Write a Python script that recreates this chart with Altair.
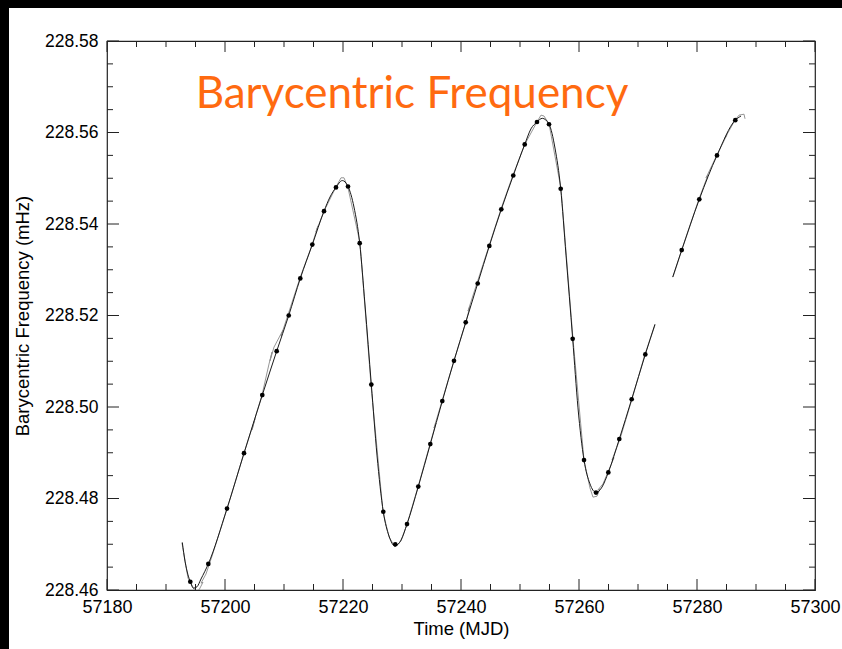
import altair as alt
import pandas as pd

# ---- data ----
dot_mjd = [57194.12, 57197.17, 57200.34, 57203.22, 57206.32, 57208.76, 57210.80, 57212.76,
           57214.80, 57216.78, 57218.81, 57220.85, 57222.83, 57224.80, 57226.83, 57228.86,
           57230.85, 57232.76, 57234.80, 57236.83, 57238.81, 57240.80, 57242.83, 57244.80,
           57246.83, 57248.86, 57250.80, 57252.88, 57254.92, 57256.90, 57258.93, 57260.85,
           57262.88, 57264.97, 57266.83, 57268.93, 57271.24,
           57277.41, 57280.39, 57283.39, 57286.49]
dot_freq = [228.4618, 228.4657, 228.4778, 228.4899, 228.5026, 228.5122, 228.5200, 228.5281,
            228.5355, 228.5428, 228.5480, 228.5482, 228.5358, 228.5049, 228.4771, 228.4700,
            228.4744, 228.4826, 228.4919, 228.5013, 228.5101, 228.5185, 228.5270, 228.5352,
            228.5432, 228.5506, 228.5574, 228.5623, 228.5618, 228.5477, 228.5149, 228.4884,
            228.4813, 228.4857, 228.4930, 228.5017, 228.5115,
            228.5343, 228.5454, 228.5550, 228.5627]

model_a_mjd = [57192.76, 57193.22, 57193.73, 57194.12, 57194.66, 57195.25, 57195.93, 57197.17,
               57200.34, 57203.22, 57206.32, 57208.76, 57210.80, 57212.76, 57214.80, 57216.78,
               57217.80, 57218.81, 57219.88, 57220.85, 57221.86, 57222.83, 57223.73, 57224.80,
               57225.76, 57226.83, 57227.80, 57228.81, 57229.83, 57230.85, 57232.76, 57234.80,
               57236.83, 57238.81, 57240.80, 57242.83, 57244.80, 57246.83, 57248.86, 57250.80,
               57251.86, 57252.88, 57253.78, 57254.92, 57255.93, 57256.90, 57257.80, 57258.93,
               57259.83, 57260.85, 57261.86, 57262.88, 57263.90, 57264.97, 57266.83, 57268.93,
               57271.24, 57272.88]
model_a_freq = [228.4704, 228.4663, 228.4633, 228.4618, 228.4604, 228.4607, 228.4624, 228.4657,
                228.4778, 228.4899, 228.5026, 228.5122, 228.5200, 228.5281, 228.5355, 228.5428,
                228.5459, 228.5480, 228.5495, 228.5482, 228.5437, 228.5358, 228.5223, 228.5049,
                228.4895, 228.4771, 228.4718, 228.4696, 228.4709, 228.4744, 228.4826, 228.4919,
                228.5013, 228.5101, 228.5185, 228.5270, 228.5352, 228.5432, 228.5506, 228.5574,
                228.5608, 228.5623, 228.5631, 228.5618, 228.5566, 228.5477, 228.5332, 228.5149,
                228.4998, 228.4884, 228.4832, 228.4813, 228.4825, 228.4857, 228.4930, 228.5017,
                228.5115, 228.5181]
model_b_mjd = [57275.88, 57277.41, 57280.39, 57283.39, 57286.49, 57287.46]
model_b_freq = [228.5284, 228.5343, 228.5454, 228.5550, 228.5627, 228.5636]

raw_a_mjd = [57192.71, 57193.73, 57194.92, 57195.59, 57196.27, 57195.93, 57196.78, 57197.80,
             57200.34, 57203.22, 57204.58, 57205.08, 57204.58, 57205.25, 57206.27, 57207.46,
             57207.97, 57207.63, 57208.31, 57209.83, 57209.49, 57210.51, 57212.71, 57214.75,
             57215.76, 57215.42, 57216.78, 57218.81, 57219.66, 57220.17, 57220.85, 57222.88,
             57224.75, 57226.78, 57227.80, 57228.81, 57229.83, 57230.85, 57232.71, 57234.75,
             57235.76, 57235.42, 57236.78, 57238.81, 57240.85, 57241.53, 57241.19, 57242.71,
             57244.75, 57246.78, 57248.81, 57250.85, 57252.88, 57253.56, 57254.07, 57254.92,
             57256.95, 57258.98, 57260.85, 57261.86, 57262.37, 57263.05, 57263.56, 57263.22,
             57264.07, 57264.92, 57265.93, 57265.59, 57266.95, 57268.98, 57271.19, 57272.88]
raw_a_freq = [228.4703, 228.4626, 228.4598, 228.4600, 228.4617, 228.4615, 228.4635, 228.4674,
              228.4777, 228.4899, 228.4954, 228.4974, 228.4950, 228.4983, 228.5026, 228.5094,
              228.5120, 228.5101, 228.5131, 228.5168, 228.5155, 228.5195, 228.5282, 228.5354,
              228.5396, 228.5383, 228.5428, 228.5481, 228.5501, 228.5501, 228.5479, 228.5359,
              228.5048, 228.4771, 228.4716, 228.4694, 228.4707, 228.4744, 228.4825, 228.4919,
              228.4965, 228.4954, 228.5013, 228.5101, 228.5186, 228.5221, 228.5210, 228.5271,
              228.5352, 228.5433, 228.5507, 228.5575, 228.5623, 228.5638, 228.5636, 228.5619,
              228.5477, 228.5149, 228.4884, 228.4823, 228.4803, 228.4805, 228.4821, 228.4819,
              228.4832, 228.4858, 228.4889, 228.4884, 228.4930, 228.5017, 228.5116, 228.5179]
raw_b_mjd = [57275.93, 57277.41, 57280.34, 57281.86, 57281.53, 57283.39, 57285.08, 57284.75,
             57286.44, 57287.12, 57287.97, 57288.14]
raw_b_freq = [228.5284, 228.5343, 228.5455, 228.5507, 228.5501, 228.5551, 228.5595, 228.5588,
              228.5627, 228.5638, 228.5640, 228.5630]

x_major = [57180, 57200, 57220, 57240, 57260, 57280, 57300]
x_minor = [57185, 57190, 57195, 57205, 57210, 57215, 57225, 57230, 57235, 57245, 57250, 57255,
           57265, 57270, 57275, 57285, 57290, 57295]
y_major = [228.46, 228.48, 228.50, 228.52, 228.54, 228.56, 228.58]
y_minor = [228.465, 228.47, 228.475, 228.485, 228.49, 228.495, 228.505, 228.51, 228.515,
           228.525, 228.53, 228.535, 228.545, 228.55, 228.555, 228.565, 228.57, 228.575]

title_text = "Barycentric Frequency"
x_title = "Time (MJD)"
y_title = "Barycentric Frequency (mHz)"

# ---- tables ----
model_df = pd.concat([
    pd.DataFrame({"mjd": model_a_mjd, "freq": model_a_freq, "seg": "a"}),
    pd.DataFrame({"mjd": model_b_mjd, "freq": model_b_freq, "seg": "b"}),
])
raw_df = pd.concat([
    pd.DataFrame({"mjd": raw_a_mjd, "freq": raw_a_freq, "seg": "a", "k": range(len(raw_a_mjd))}),
    pd.DataFrame({"mjd": raw_b_mjd, "freq": raw_b_freq, "seg": "b", "k": range(len(raw_b_mjd))}),
])
dots_df = pd.DataFrame({"mjd": dot_mjd, "freq": dot_freq})

W, H = 708, 549
FONT = "Liberation Sans"
INK = "#222222"

xs = alt.Scale(domain=[57180, 57300], nice=False, zero=False)
ys = alt.Scale(domain=[228.46, 228.58], nice=False, zero=False)

x_enc = alt.X("mjd:Q", scale=xs, axis=alt.Axis(
    values=x_major, format="d", title=x_title, tickSize=0, domain=False, grid=False,
    labelFlush=False, labelOverlap=False,
    labelFontSize=18, labelFont=FONT, labelColor="black", labelPadding=8,
    titleFontSize=18.5, titleFont=FONT, titleFontWeight="normal", titleColor="black", titlePadding=3))
y_enc = alt.Y("freq:Q", scale=ys, axis=alt.Axis(
    values=y_major, format=".2f", title=y_title, tickSize=0, domain=False, grid=False,
    labelFlush=False, labelOverlap=False,
    labelFontSize=17.5, labelFont=FONT, labelColor="black", labelPadding=9,
    titleFontSize=18.5, titleFont=FONT, titleFontWeight="normal", titleColor="black", titlePadding=12))

raw_line = alt.Chart(raw_df).mark_line(color="#8a8a8a", strokeWidth=0.9, clip=True).encode(
    x=x_enc, y=y_enc, detail="seg:N", order="k:Q")
model_line = alt.Chart(model_df).mark_line(color="#1a1a1a", strokeWidth=1.0, interpolate="monotone",
                                           clip=True).encode(
    x=alt.X("mjd:Q", scale=xs), y=alt.Y("freq:Q", scale=ys), detail="seg:N")
dots = alt.Chart(dots_df).mark_circle(color="black", size=22, opacity=1).encode(
    x=alt.X("mjd:Q", scale=xs), y=alt.Y("freq:Q", scale=ys))

def xticks(vals, length):
    d = pd.DataFrame({"t": vals})
    bot = alt.Chart(d).mark_rule(color=INK, strokeWidth=1).encode(
        x=alt.X("t:Q", scale=xs), y=alt.value(H), y2=alt.value(H - length))
    top = alt.Chart(d).mark_rule(color=INK, strokeWidth=1).encode(
        x=alt.X("t:Q", scale=xs), y=alt.value(0), y2=alt.value(length))
    return [bot, top]

def yticks(vals, length):
    d = pd.DataFrame({"t": vals})
    left = alt.Chart(d).mark_rule(color=INK, strokeWidth=1).encode(
        y=alt.Y("t:Q", scale=ys), x=alt.value(0), x2=alt.value(length))
    right = alt.Chart(d).mark_rule(color=INK, strokeWidth=1).encode(
        y=alt.Y("t:Q", scale=ys), x=alt.value(W), x2=alt.value(W - length))
    return [left, right]

ticks = xticks(x_major, 11) + xticks(x_minor, 6) + yticks(y_major, 12) + yticks(y_minor, 6)

title_mark = alt.Chart(pd.DataFrame({"s": [title_text]})).mark_text(
    font="Lato", fontSize=44, color="#FF6A10", align="center", baseline="alphabetic").encode(
    text="s:N", x=alt.value(305), y=alt.value(67))

one = pd.DataFrame({"a": [0]})
band_left = alt.Chart(one).mark_rect(color="black").encode(
    x=alt.value(-107), x2=alt.value(-98), y=alt.value(-41), y2=alt.value(608))
band_top = alt.Chart(one).mark_rect(color="black").encode(
    x=alt.value(-107), x2=alt.value(735), y=alt.value(-41), y2=alt.value(-33))

chart = alt.layer(raw_line, model_line, dots, *ticks, title_mark, band_left, band_top).properties(
    width=W, height=H,
    autosize=alt.AutoSizeParams(type="none"),
    padding={"left": 107, "top": 41, "right": 27, "bottom": 59},
    background="white",
).configure_view(stroke=INK, strokeWidth=1.2)

chart.save("out.html", embed_options={"renderer": "svg", "actions": False})
